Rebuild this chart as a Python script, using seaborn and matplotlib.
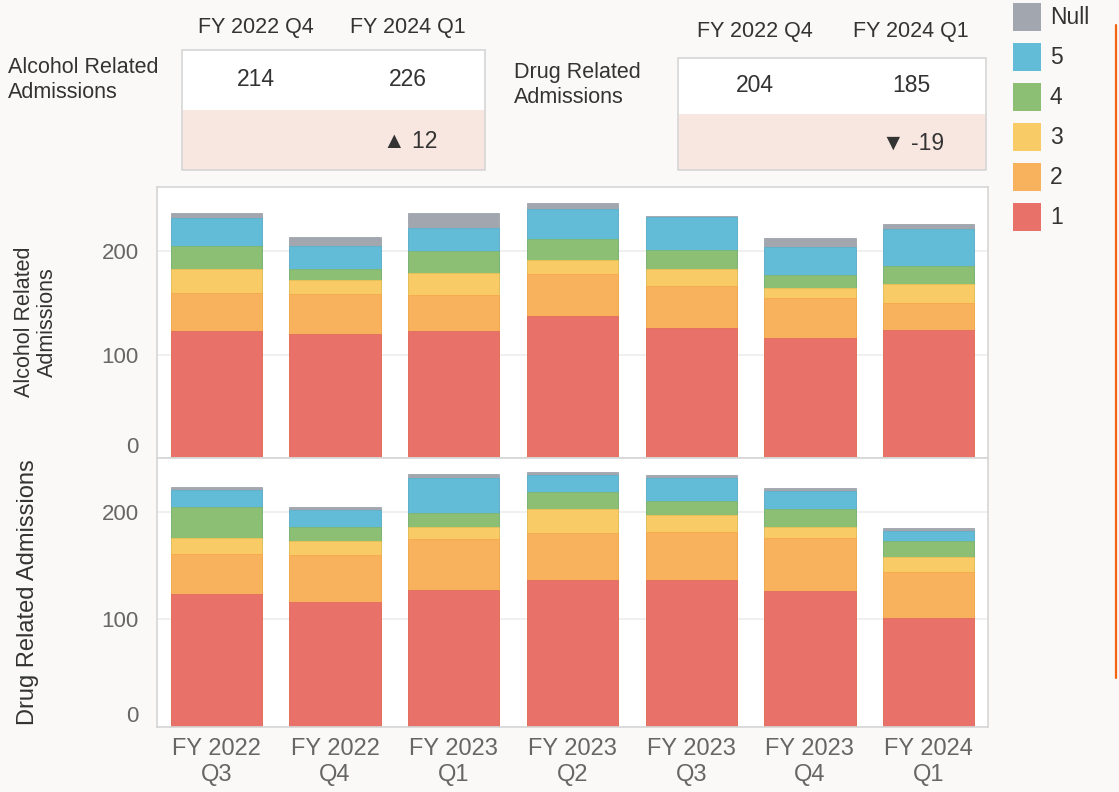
import numpy as np
import pandas as pd
import matplotlib
matplotlib.use("Agg")
import matplotlib.pyplot as plt
from matplotlib.patches import Rectangle
from matplotlib.lines import Line2D
import seaborn as sns

# ---- data -------------------------------------------------------------
quarters = ["FY 2022\nQ3", "FY 2022\nQ4", "FY 2023\nQ1", "FY 2023\nQ2",
            "FY 2023\nQ3", "FY 2023\nQ4", "FY 2024\nQ1"]
levels = ["Null", "5", "4", "3", "2", "1"]          # legend order, top of stack first

alcohol_1 = [123, 120, 123, 137, 126, 116, 124]
alcohol_2 = [37, 39, 35, 41, 40, 39, 26]
alcohol_3 = [23, 13, 21, 13, 17, 9, 18]
alcohol_4 = [22, 11, 21, 21, 18, 13, 18]
alcohol_5 = [27, 22, 22, 29, 32, 27, 35]
alcohol_null = [5, 9, 15, 6, 1, 9, 5]

drug_1 = [124, 116, 127, 137, 137, 126, 101]
drug_2 = [37, 44, 48, 43, 44, 50, 43]
drug_3 = [15, 13, 11, 23, 16, 10, 14]
drug_4 = [28, 13, 13, 15, 13, 17, 15]
drug_5 = [16, 16, 32, 16, 21, 16, 9]
drug_null = [3, 2, 4, 3, 3, 3, 3]

kpi_from, kpi_to = "FY 2022 Q4", "FY 2024 Q1"

palette = {"Null": "#a2a7af", "5": "#62bcd8", "4": "#8cbf74",
           "3": "#f9cb66", "2": "#f8b15d", "1": "#e8726a"}
edges = {"Null": "#949aa2", "5": "#55b0cd", "4": "#7fb467",
         "3": "#f4bf52", "2": "#f3a548", "1": "#df665e"}

BG = "#faf9f7"
TXT = "#333333"
TICK = "#666666"

# ---- style ------------------------------------------------------------
sns.set_theme(style="white")
plt.rcParams["font.family"] = ["Liberation Sans", "DejaVu Sans"]

W, H = 1119, 792


def fx(x):
    return x / W


def fy(y):
    return 1 - y / H


def long_form(series):
    rows = []
    top = np.zeros(len(quarters))
    for lev in levels[::-1]:                      # "1" sits at the bottom
        vals = np.asarray(series[lev], dtype=float)
        top = top + vals
        for q, v, t in zip(quarters, vals, top):
            rows.append({"quarter": q, "level": lev, "count": v, "top": t})
    return pd.DataFrame(rows)


alcohol = long_form({"1": alcohol_1, "2": alcohol_2, "3": alcohol_3,
                     "4": alcohol_4, "5": alcohol_5, "Null": alcohol_null})
drug = long_form({"1": drug_1, "2": drug_2, "3": drug_3,
                  "4": drug_4, "5": drug_5, "Null": drug_null})

fig = plt.figure(figsize=(W / 100, H / 100), dpi=100, facecolor=BG)
ax_alc = fig.add_axes([fx(157), fy(458), fx(988) - fx(157), fy(187) - fy(458)])
ax_drg = fig.add_axes([fx(157), fy(727), fx(988) - fx(157), fy(458) - fy(727)])


def draw_panel(ax, df, ymax):
    # cumulative bars drawn tallest first, each lower layer painted over it
    for lev in levels:
        sub = df[df["level"] == lev]
        sns.barplot(data=sub, x="quarter", y="top", order=quarters,
                    color=palette[lev], saturation=1, width=0.77,
                    edgecolor=edges[lev], linewidth=0.5, errorbar=None, ax=ax)
    ax.set_xlim(-0.5, len(quarters) - 0.5)
    ax.set_ylim(0, ymax)
    ax.set_facecolor("white")
    for s in ax.spines.values():
        s.set_color("#d6d6d6")
        s.set_linewidth(1.2)
    ax.set_yticks([0, 100, 200], labels=["0", "100", "200"])
    ax.yaxis.grid(True, color="#eeeeee", lw=1.2)
    ax.set_axisbelow(True)
    ax.tick_params(axis="y", length=10, width=1.2, color="#eeeeee",
                   labelsize=16, labelcolor=TICK, pad=3)
    ax.yaxis.get_major_ticks()[0].label1.set_verticalalignment("bottom")
    ax.set_xlabel("")
    ax.set_ylabel("")


draw_panel(ax_alc, alcohol, 262)
draw_panel(ax_drg, drug, 250)

ax_alc.tick_params(axis="x", labelbottom=False, length=0)
ax_drg.set_xticks(range(len(quarters)), labels=quarters)
ax_drg.set_xticks(np.arange(-0.5, len(quarters), 1), minor=True)
ax_drg.tick_params(axis="x", which="major", length=0, labelsize=17,
                   labelcolor=TICK, pad=8)
ax_drg.tick_params(axis="x", which="minor", length=12, width=1.2,
                   color="#e6e6e6")
for lbl in ax_drg.get_xticklabels():
    lbl.set_linespacing(1.22)

# axis titles
fig.text(fx(36), fy(322), "Alcohol Related\nAdmissions", rotation=90,
         ha="center", va="center", multialignment="center",
         fontsize=15.5, color=TXT, linespacing=1.12)
fig.text(fx(28), fy(592), "Drug Related Admissions", rotation=90,
         ha="center", va="center", fontsize=17, color=TXT)


# ---- KPI boxes ----------------------------------------------------------
def kpi_box(name, df, left, right, top, mid, bottom, head_y, label_x, label_y,
            col_x):
    totals = df.groupby("quarter", sort=False)["count"].sum()
    v0 = int(totals[kpi_from.replace(" Q", "\nQ")])
    v1 = int(totals[kpi_to.replace(" Q", "\nQ")])
    diff = v1 - v0
    fig.add_artist(Rectangle((fx(left), fy(mid)), fx(right) - fx(left),
                             fy(top) - fy(mid), transform=fig.transFigure,
                             facecolor="white", edgecolor="none"))
    fig.add_artist(Rectangle((fx(left), fy(bottom)), fx(right) - fx(left),
                             fy(mid) - fy(bottom), transform=fig.transFigure,
                             facecolor="#f8e7e0", edgecolor="none"))
    fig.add_artist(Rectangle((fx(left), fy(bottom)), fx(right) - fx(left),
                             fy(top) - fy(bottom), transform=fig.transFigure,
                             facecolor="none", edgecolor="#d6d6d6", lw=1.2))
    fig.text(fx(label_x), fy(label_y), name, ha="left", va="center",
             fontsize=15.5, color=TXT, linespacing=1.22)
    for x, head in zip(col_x, [kpi_from, kpi_to]):
        fig.text(fx(x), fy(head_y), head, ha="center", va="center",
                 fontsize=15.5, color=TXT)
    val_y = (top + mid) / 2
    for x, v in zip(col_x, [v0, v1]):
        fig.text(fx(x), fy(val_y), f"{v}", ha="center", va="center",
                 fontsize=16.5, color=TXT)
    arrow = "\u25b2" if diff >= 0 else "\u25bc"
    fig.text(fx(col_x[1] + 2), fy((mid + bottom) / 2 + 1), f"{arrow} {diff}",
             ha="center", va="center", fontsize=16.5, color=TXT)


kpi_box("Alcohol Related\nAdmissions", alcohol, 182, 485, 50, 110, 170,
        28, 8, 80, [256, 408])
kpi_box("Drug Related\nAdmissions", drug, 678, 986, 58, 114, 170,
        32, 514, 85, [755, 911])

# ---- legend ---------------------------------------------------------------
for i, lev in enumerate(levels):
    y_top = 3 + 40 * i
    fig.add_artist(Rectangle((fx(1013), fy(y_top + 28)), fx(28), 28 / H,
                             transform=fig.transFigure,
                             facecolor=palette[lev], edgecolor="none"))
    fig.text(fx(1050), fy(y_top + 14), lev, ha="left", va="center",
             fontsize=16.5, color=TXT)

# accent rule on the right edge
fig.add_artist(Line2D([fx(1116), fx(1116)], [fy(25), fy(678)],
                      transform=fig.transFigure, color="#f2640f", lw=1.6))

fig.savefig("out.png", dpi=100, facecolor=BG)
